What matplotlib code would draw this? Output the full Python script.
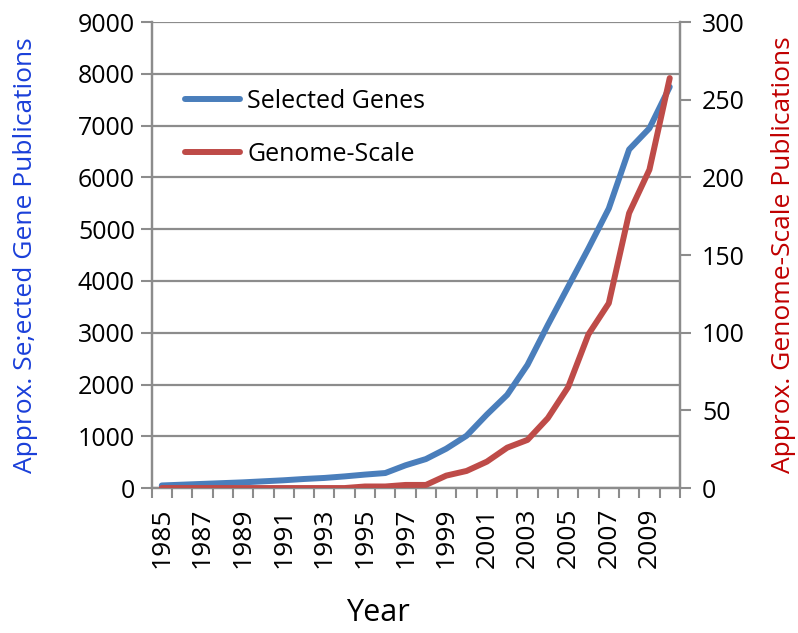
import matplotlib
matplotlib.use("Agg")
import matplotlib.pyplot as plt
import numpy as np

years = list(range(1985, 2011))
selected_genes = [50, 65, 80, 95, 110, 130, 150, 175, 195, 225, 260, 290,
                  440, 560, 760, 1010, 1420, 1800, 2380, 3150, 3890, 4630,
                  5400, 6540, 6950, 7750]
genome_scale = [0, 0, 0, 0, 0, 0, 0, 0, 0, 0, 1, 1,
                2, 2, 8, 11, 17, 26, 31, 45, 65, 99,
                119, 177, 205, 264]
year_labels = list(range(1985, 2010, 2))

plt.rcParams['font.family'] = ['Open Sans', 'DejaVu Sans']
GRAY = '#8c8c8c'
BLUE = '#4a7ebb'
RED = '#be4b48'

fig = plt.figure(figsize=(7.98, 6.33), dpi=100)
ax = fig.add_axes([0.190, 0.229, 0.662, 0.736])
ax2 = ax.twinx()

ax.plot(years, selected_genes, color=BLUE, lw=4.3, solid_capstyle='round',
        solid_joinstyle='round', label='Selected Genes', zorder=3)
ax2.plot(years, genome_scale, color=RED, lw=4.3, solid_capstyle='round',
         solid_joinstyle='round', label='Genome-Scale', zorder=3)

ax.set_xlim(1984.5, 2010.5)
ax.set_ylim(0, 9000)
ax2.set_ylim(0, 300)
ax.set_yticks(range(0, 9001, 1000))
ax2.set_yticks(range(0, 301, 50))

ax.set_xticks(year_labels)
ax.set_xticklabels([str(y) for y in year_labels], rotation=90)
ax.set_xticks(np.arange(1984.5, 2011, 1), minor=True)
ax.tick_params(axis='x', which='major', length=0, pad=14, labelsize=19)
ax.tick_params(axis='x', which='minor', length=7, width=1.5, color=GRAY)
ax.tick_params(axis='y', length=8, width=1.5, color=GRAY, labelsize=18, pad=4)
ax2.tick_params(axis='y', length=8, width=1.5, color=GRAY, labelsize=18, pad=8)

ax.grid(axis='y', color=GRAY, lw=1.6)
ax.set_axisbelow(True)
for a in (ax, ax2):
    a.spines['top'].set_visible(False)
    for s in ('left', 'right', 'bottom'):
        a.spines[s].set_color(GRAY)
        a.spines[s].set_linewidth(1.6)

ax.set_ylabel('Approx. Se;ected Gene Publications', color='#1a3fd9', fontsize=19, va='center')
ax2.set_ylabel('Approx. Genome-Scale Publications', color='#c00000', fontsize=19, va='center')
ax.yaxis.set_label_coords(-0.238, 0.5)
ax2.yaxis.set_label_coords(1.197, 0.5)
ax.set_xlabel('Year', fontsize=22, va='center')
ax.xaxis.set_label_coords(0.428, -0.268)

h1, l1 = ax.get_legend_handles_labels()
h2, l2 = ax2.get_legend_handles_labels()
leg = ax2.legend(h1 + h2, l1 + l2, loc='upper left', bbox_to_anchor=(0.0625, 0.857),
                 frameon=False, fontsize=18, handlelength=2.2, handletextpad=0.3,
                 labelspacing=1.12, borderpad=0, borderaxespad=0)

fig.savefig('out.png', dpi=100)
